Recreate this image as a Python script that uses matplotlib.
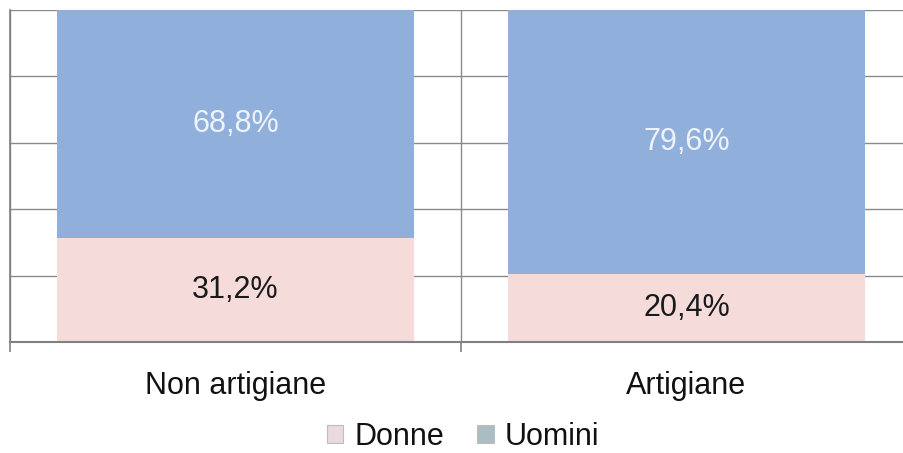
import matplotlib
matplotlib.use("Agg")
import matplotlib.pyplot as plt
from matplotlib.patches import Patch

categories = ["Non artigiane", "Artigiane"]
donne = [31.2, 20.4]
uomini = [68.8, 79.6]
donne_labels = ["31,2%", "20,4%"]
uomini_labels = ["68,8%", "79,6%"]

plt.rcParams['font.family'] = ['Liberation Sans', 'DejaVu Sans']

W, H = 904, 453
fig = plt.figure(figsize=(W / 100, H / 100), dpi=100)
ax = fig.add_axes([10 / W, (H - 342) / H, 902 / W, 332 / H])

blue = "#90b0db"
pink = "#f5dcdb"
x = range(len(categories))
ax.bar(x, donne, width=0.79, color=pink, zorder=2)
ax.bar(x, uomini, width=0.79, bottom=donne, color=blue, zorder=2)

for i in x:
    ax.text(i, donne[i] / 2, donne_labels[i], ha='center', va='center',
            fontsize=22, color='#1a1a1a', zorder=3)
    ax.text(i, donne[i] + uomini[i] / 2, uomini_labels[i], ha='center', va='center',
            fontsize=22, color='#eef3fb', zorder=3)

ax.set_xlim(-0.5, 1.5)
ax.set_ylim(0, 100)
ax.set_yticks([0, 20, 40, 60, 80, 100])
ax.yaxis.grid(True, color='#8a8a8a', linewidth=1.0, zorder=1)
ax.tick_params(axis='y', length=0, labelleft=False)

ax.set_xticks(list(x))
ax.set_xticklabels(categories, fontsize=22, color='#111111')
ax.tick_params(axis='x', length=0, pad=21)
ax.set_xticks([-0.5, 0.5, 1.5], minor=True)
ax.tick_params(axis='x', which='minor', length=7, width=1.2, color='#808080', direction='out')
ax.xaxis.grid(True, which='minor', color='#8a8a8a', linewidth=1.0, zorder=1)
ax.xaxis.grid(False, which='major')
ax.set_axisbelow(True)

for s in ['top', 'right']:
    ax.spines[s].set_visible(False)
ax.spines['left'].set_color('#808080')
ax.spines['left'].set_linewidth(1.2)
ax.spines['bottom'].set_color('#808080')
ax.spines['bottom'].set_linewidth(1.5)
ax.spines['bottom'].set_zorder(4)

handles = [Patch(facecolor='#ead9dd', edgecolor='#bdbdbd', linewidth=0.8),
           Patch(facecolor='#a9bdc2', edgecolor='#bdbdbd', linewidth=0.8)]
fig.legend(handles, ["Donne", "Uomini"], loc='center', bbox_to_anchor=(463 / W, 1 - 437 / H),
           ncol=2, frameon=False, fontsize=22, handlelength=0.55, handleheight=0.55,
           handletextpad=0.35, columnspacing=1.1, labelcolor='#111111')

fig.savefig("out.png", dpi=100)
